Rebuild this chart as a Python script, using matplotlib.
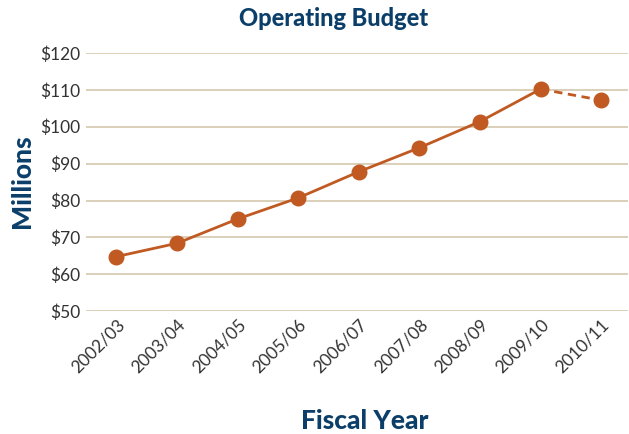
import matplotlib
matplotlib.use("Agg")
import matplotlib.pyplot as plt

# dades del gràfic
years = ["2002/03", "2003/04", "2004/05", "2005/06", "2006/07",
         "2007/08", "2008/09", "2009/10", "2010/11"]
budget = [64.8, 68.4, 75.0, 80.7, 87.8, 94.3, 101.4, 110.2, 107.2]
y_ticks = [50, 60, 70, 80, 90, 100, 110, 120]

orange = "#C05A22"
navy = "#0B3F6A"
grid_color = "#D8CCB2"

plt.rcParams["font.family"] = ["Lato", "DejaVu Sans"]

fig = plt.figure(figsize=(6.29, 4.34), dpi=100)
ax = fig.add_axes([0.137, 0.283, 0.862, 0.595])

x = list(range(len(years)))
# línia continua fins a 2009/10, discontinua per a l'últim
ax.plot(x[:-1], budget[:-1], color=orange, lw=2, zorder=3)
ax.plot(x[-2:], budget[-2:], color=orange, lw=2, ls=(0, (3, 2)), zorder=3)
ax.scatter(x, budget, s=110, color=orange, zorder=4)

ax.set_xlim(-0.5, 8.45)
ax.set_ylim(50, 120)
ax.set_yticks(y_ticks)
ax.set_yticklabels(["$%d" % v for v in y_ticks], fontsize=12.5, color="#333333")
ax.set_xticks(x)
ax.set_xticklabels(years, rotation=45, ha="right", rotation_mode="anchor",
                   fontsize=12.5, color="#333333")
ax.tick_params(axis="y", length=0, pad=4)
ax.tick_params(axis="x", length=0, pad=4)
for v in y_ticks:
    ax.axhline(v, color=grid_color, lw=1.3, zorder=1)
for s in ax.spines.values():
    s.set_visible(False)

fig.text(0.53, 0.958, "Operating Budget", ha="center", va="center",
         fontsize=17, fontweight="black", color=navy)
fig.text(0.58, 0.03, "Fiscal Year", ha="center", va="center",
         fontsize=19, fontweight="black", color=navy)
fig.text(0.035, 0.583, "Millions", ha="center", va="center", rotation=90,
         fontsize=19, fontweight="black", color=navy)

fig.savefig("out.png", dpi=100)
